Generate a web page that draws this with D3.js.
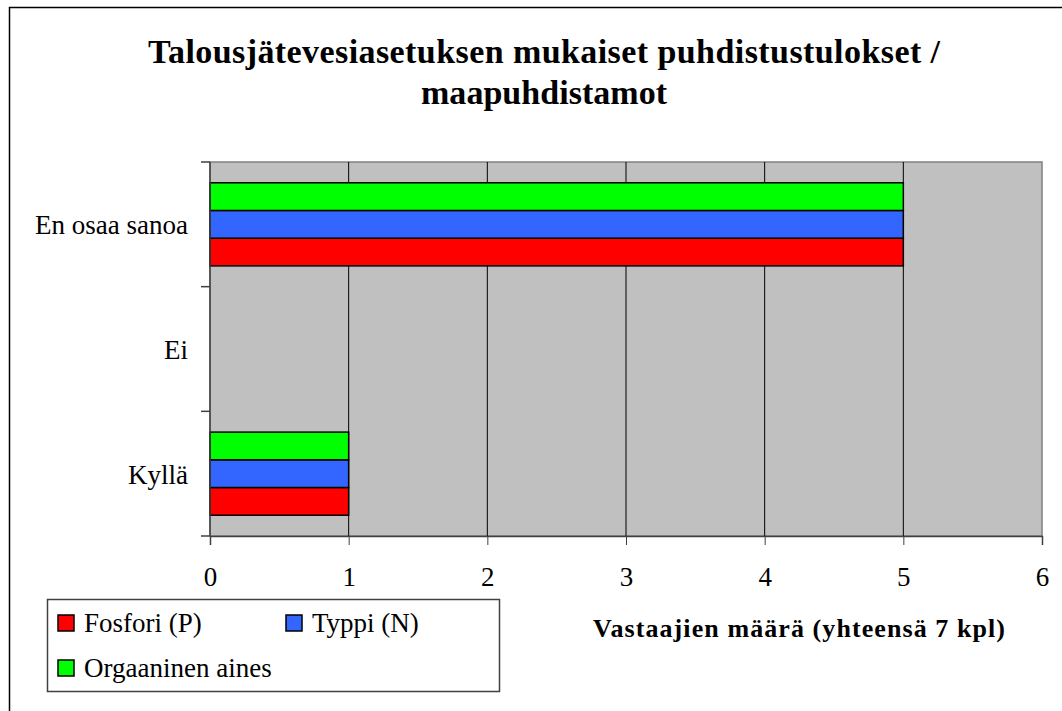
<!DOCTYPE html>
<html>
<head>
<meta charset="utf-8">
<script src="https://cdn.jsdelivr.net/npm/d3@7"></script>
<style>
  body { margin: 0; background: #fff; }
  svg text { font-family: "Liberation Serif", "Times New Roman", serif; }
</style>
</head>
<body>
<div id="chart"></div>
<script>
// categories from top to bottom
var categories = ["En osaa sanoa", "Ei", "Kyllä"];
// series, values in the same order as categories
var seriesNames = ["Fosfori (P)", "Typpi (N)", "Orgaaninen aines"];
var seriesColors = ["#ff0000", "#3366ff", "#00ff00"];
var fosfori = [5, 0, 1];
var typpi = [5, 0, 1];
var orgaaninen = [5, 0, 1];
var xTicks = [0, 1, 2, 3, 4, 5, 6];
var titleLines = ["Talousjätevesiasetuksen mukaiset puhdistustulokset /", "maapuhdistamot"];
var xTitle = "Vastaajien määrä (yhteensä 7 kpl)";

function init() {
    var w = 1062;
    var h = 711;
    var plot = { left: 210, top: 162, right: 1042, bottom: 536 };

    var svg = d3.select("#chart")
                .append("svg")
                .attr("width", w)
                .attr("height", h);

    // outer chart border (runs off right and bottom edge)
    svg.append("rect")
        .attr("x", 9.5).attr("y", 7.5)
        .attr("width", 1080).attr("height", 730)
        .attr("fill", "white")
        .attr("stroke", "#000").attr("stroke-width", 1.5);

    // title, stretched a little like the original rendering
    var titleWidths = [792, 246];
    svg.selectAll("text.title")
        .data(titleLines)
        .enter()
        .append("text")
        .attr("class", "title")
        .attr("x", 544)
        .attr("y", function(d, i) { return 63 + i * 41; })
        .attr("text-anchor", "middle")
        .attr("textLength", function(d, i) { return titleWidths[i]; })
        .attr("lengthAdjust", "spacing")
        .style("font-size", "34px")
        .style("font-weight", "bold")
        .text(function(d) { return d; });

    var x = d3.scaleLinear()
              .domain([0, 6])
              .range([plot.left, plot.right]);

    var y = d3.scaleBand()
              .domain(categories)
              .range([plot.top, plot.bottom]);

    // series inside a band, top to bottom: green, blue, red
    var inner = d3.scaleBand()
                  .domain([2, 1, 0])
                  .range([0, y.bandwidth()])
                  .paddingInner(0)
                  .paddingOuter(0.75);

    // plot background
    svg.append("rect")
        .attr("x", plot.left).attr("y", plot.top)
        .attr("width", plot.right - plot.left)
        .attr("height", plot.bottom - plot.top)
        .attr("fill", "#c0c0c0")
        .attr("stroke", "#808080").attr("stroke-width", 1.5);

    // vertical gridlines
    svg.selectAll("line.grid")
        .data(xTicks.slice(1, -1))
        .enter()
        .append("line")
        .attr("x1", function(d) { return x(d); })
        .attr("x2", function(d) { return x(d); })
        .attr("y1", plot.top).attr("y2", plot.bottom)
        .attr("stroke", "#000").attr("stroke-width", 1);

    // bars
    var values = [fosfori, typpi, orgaaninen];
    var rows = [];
    categories.forEach(function(c, ci) {
        values.forEach(function(v, si) {
            rows.push({ cat: c, s: si, value: v[ci] });
        });
    });

    svg.selectAll("rect.bar")
        .data(rows.filter(function(d) { return d.value > 0; }))
        .enter()
        .append("rect")
        .attr("class", "bar")
        .attr("x", x(0))
        .attr("y", function(d) { return y(d.cat) + inner(d.s); })
        .attr("width", function(d) { return x(d.value) - x(0); })
        .attr("height", inner.bandwidth())
        .attr("fill", function(d) { return seriesColors[d.s]; })
        .attr("stroke", "#000").attr("stroke-width", 1.5);

    // x axis
    var xAxis = d3.axisBottom(x)
                  .tickValues(xTicks)
                  .tickFormat(d3.format("d"))
                  .tickSize(9)
                  .tickPadding(22);
    var gx = svg.append("g")
                .attr("transform", "translate(0," + plot.bottom + ")")
                .call(xAxis);
    gx.attr("font-family", null);
    gx.select(".domain").attr("stroke", "#404040").attr("stroke-width", 1.5);
    gx.selectAll(".tick line").attr("stroke", "#404040");
    gx.selectAll("text")
        .style("font-size", "27px")
        .attr("fill", "#000");

    // y axis: ticks on band boundaries, labels at band centres
    var gy = svg.append("g");
    gy.append("line")
        .attr("x1", plot.left).attr("x2", plot.left)
        .attr("y1", plot.top).attr("y2", plot.bottom)
        .attr("stroke", "#404040").attr("stroke-width", 1.5);
    var bounds = categories.map(function(c) { return y(c); }).concat([plot.bottom]);
    gy.selectAll("line.tick")
        .data(bounds)
        .enter()
        .append("line")
        .attr("x1", plot.left - 9).attr("x2", plot.left)
        .attr("y1", function(d) { return d; })
        .attr("y2", function(d) { return d; })
        .attr("stroke", "#404040").attr("stroke-width", 1.5);
    gy.selectAll("text")
        .data(categories)
        .enter()
        .append("text")
        .attr("x", 188)
        .attr("y", function(d) { return y(d) + y.bandwidth() / 2 + 10; })
        .attr("text-anchor", "end")
        .style("font-size", "27px")
        .text(function(d) { return d; });

    // x axis title
    svg.append("text")
        .attr("x", 799).attr("y", 637)
        .attr("text-anchor", "middle")
        .attr("textLength", 412)
        .attr("lengthAdjust", "spacing")
        .style("font-size", "26px")
        .style("font-weight", "bold")
        .text(xTitle);

    // legend
    var legend = svg.append("g");
    legend.append("rect")
        .attr("x", 47.5).attr("y", 599.5)
        .attr("width", 452).attr("height", 92)
        .attr("fill", "white")
        .attr("stroke", "#404040").attr("stroke-width", 1.5);
    var legendPos = [[58, 632], [286, 632], [58, 677]];
    var items = legend.selectAll("g.item")
        .data(seriesNames)
        .enter()
        .append("g")
        .attr("transform", function(d, i) {
            return "translate(" + legendPos[i][0] + "," + legendPos[i][1] + ")";
        });
    items.append("rect")
        .attr("x", 0).attr("y", -17)
        .attr("width", 16).attr("height", 16)
        .attr("fill", function(d, i) { return seriesColors[i]; })
        .attr("stroke", "#000").attr("stroke-width", 1.5);
    items.append("text")
        .attr("x", 26).attr("y", 0)
        .style("font-size", "27px")
        .text(function(d) { return d; });
}

window.onload = init;
</script>
</body>
</html>
